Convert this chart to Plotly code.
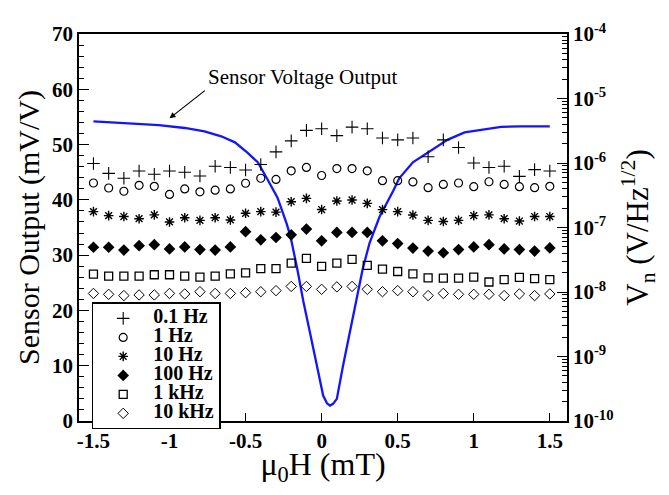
import plotly.graph_objects as go

# ---------------- data ----------------
field_pts = [-1.5, -1.4, -1.3, -1.2, -1.1, -1.0, -0.9, -0.8, -0.7, -0.6, -0.5, -0.4, -0.3, -0.2, -0.1,
             0.0, 0.1, 0.2, 0.3, 0.4, 0.5, 0.6, 0.7, 0.8, 0.9, 1.0, 1.1, 1.2, 1.3, 1.4, 1.5]

noise_01Hz = [9.8e-7, 6.9e-7, 5.8e-7, 7.5e-7, 6.7e-7, 7.5e-7, 7.2e-7, 6.3e-7, 8.9e-7, 8.5e-7, 7.8e-7, 9.5e-7,
              1.49e-6, 2.2e-6, 3.2e-6, 3.4e-6, 2.66e-6, 3.6e-6, 3.4e-6, 2.44e-6, 2.28e-6, 2.44e-6, 1.25e-6,
              2.28e-6, 1.74e-6, 1.0e-6, 8.5e-7, 8.9e-7, 6.2e-7, 7.9e-7, 7.5e-7]
noise_1Hz = [4.9e-7, 4.1e-7, 3.65e-7, 4.5e-7, 4.35e-7, 3.26e-7, 3.97e-7, 3.57e-7, 3.79e-7, 3.97e-7, 4.85e-7,
             5.8e-7, 5.57e-7, 7.55e-7, 8.55e-7, 6.4e-7, 8.2e-7, 8.2e-7, 7.55e-7, 5.33e-7, 5.33e-7, 5.08e-7,
             4.15e-7, 4.66e-7, 4.9e-7, 4.3e-7, 5.12e-7, 4.66e-7, 4.3e-7, 4.15e-7, 4.35e-7]
noise_10Hz = [1.76e-7, 1.53e-7, 1.48e-7, 1.37e-7, 1.57e-7, 1.22e-7, 1.42e-7, 1.29e-7, 1.42e-7, 1.31e-7, 1.66e-7,
              1.76e-7, 1.73e-7, 2.51e-7, 2.83e-7, 1.90e-7, 2.58e-7, 2.67e-7, 2.37e-7, 1.89e-7, 1.76e-7, 1.56e-7,
              1.29e-7, 1.24e-7, 1.29e-7, 1.53e-7, 1.57e-7, 1.37e-7, 1.26e-7, 1.48e-7, 1.48e-7]
noise_100Hz = [4.94e-8, 4.94e-8, 4.46e-8, 5.22e-8, 5.41e-8, 4.66e-8, 5.0e-8, 4.55e-8, 4.46e-8, 5.0e-8, 8.6e-8,
               6.44e-8, 7.0e-8, 7.7e-8, 9.44e-8, 6.22e-8, 8.4e-8, 8.4e-8, 8.4e-8, 6.22e-8, 5.63e-8, 4.8e-8,
               4.31e-8, 4.06e-8, 4.55e-8, 5.0e-8, 5.41e-8, 4.66e-8, 4.55e-8, 4.31e-8, 4.83e-8]
noise_1kHz = [1.89e-8, 1.76e-8, 1.76e-8, 1.76e-8, 1.85e-8, 1.85e-8, 1.76e-8, 1.70e-8, 1.76e-8, 1.91e-8, 1.98e-8,
              2.30e-8, 2.30e-8, 2.80e-8, 3.32e-8, 2.49e-8, 2.80e-8, 3.21e-8, 2.58e-8, 2.27e-8, 2.08e-8, 1.91e-8,
              1.66e-8, 1.64e-8, 1.64e-8, 1.70e-8, 1.43e-8, 1.55e-8, 1.69e-8, 1.61e-8, 1.55e-8]
noise_10kHz = [9.5e-9, 9.2e-9, 8.8e-9, 9.0e-9, 9.0e-9, 9.5e-9, 9.33e-9, 1.01e-8, 9.5e-9, 9.5e-9, 9.77e-9,
               1.01e-8, 1.05e-8, 1.22e-8, 1.22e-8, 1.10e-8, 1.20e-8, 1.22e-8, 1.10e-8, 1.01e-8, 1.05e-8, 1.01e-8,
               8.8e-9, 9.5e-9, 9.2e-9, 9.2e-9, 9.2e-9, 8.8e-9, 9.33e-9, 8.8e-9, 9.33e-9]

field_line = [-1.50, -1.27, -1.07, -0.90, -0.77, -0.66, -0.57, -0.49, -0.42, -0.36, -0.29, -0.23, -0.205,
              -0.16, -0.12, -0.075, -0.03, 0.01, 0.035, 0.055, 0.075, 0.10, 0.14, 0.185, 0.23, 0.27, 0.315,
              0.38, 0.47, 0.51, 0.60, 0.73, 0.83, 0.94, 1.05, 1.18, 1.31, 1.50]
output_line = [54.2, 53.8, 53.5, 53.0, 52.4, 51.5, 50.4, 48.6, 46.8, 43.9, 40.4, 35.7, 33.4,
               27.5, 21.6, 15.8, 9.9, 4.6, 3.2, 2.8, 3.1, 4.0, 9.9, 15.8, 21.6, 27.5, 32.2,
               36.9, 41.6, 43.9, 46.8, 49.2, 50.9, 52.2, 52.7, 53.2, 53.3, 53.3]

series_names = ["0.1 Hz", "1 Hz", "10 Hz", "100 Hz", "1 kHz", "10 kHz"]
series_values = [noise_01Hz, noise_1Hz, noise_10Hz, noise_100Hz, noise_1kHz, noise_10kHz]

x_ticks = [-1.5, -1.0, -0.5, 0.0, 0.5, 1.0, 1.5]
x_ticklabels = ["-1.5", "-1", "-0.5", "0", "0.5", "1", "1.5"]
y_ticks = [0, 10, 20, 30, 40, 50, 60, 70]
y2_ticks = [1e-10, 1e-9, 1e-8, 1e-7, 1e-6, 1e-5, 1e-4]
y2_ticklabels = ["10<sup>-10</sup>", "10<sup>-9</sup>", "10<sup>-8</sup>", "10<sup>-7</sup>",
                 "10<sup>-6</sup>", "10<sup>-5</sup>", "10<sup>-4</sup>"]

# ---------------- styles ----------------
SERIF = "Liberation Serif"
styles = [
    dict(symbol="cross-thin-open", size=9, line=dict(color="black", width=1.1)),
    dict(symbol="circle-open", size=8, line=dict(color="black", width=1.2)),
    dict(symbol="asterisk-open", size=8, line=dict(color="black", width=1.4)),
    dict(symbol="diamond", size=9, color="black", line=dict(color="black", width=0)),
    dict(symbol="square-open", size=8, line=dict(color="black", width=1.3)),
    dict(symbol="diamond-open", size=8, line=dict(color="black", width=1.0)),
]

fig = go.Figure()

fig.add_trace(go.Scatter(x=field_line, y=output_line, mode="lines",
                         line=dict(color="#1414ff", width=2.3), showlegend=False,
                         xaxis="x", yaxis="y"))

for name, vals, st in zip(series_names, series_values, styles):
    mk = dict(st)
    mk.setdefault("color", "black")
    fig.add_trace(go.Scatter(x=field_pts, y=vals, mode="markers", marker=mk,
                             name='<span style="font-size:20px">' + name + '</span>',
                             xaxis="x", yaxis="y2"))

tickfont = dict(family=SERIF, size=21, color="black", weight="bold")

fig.update_layout(
    width=653, height=479,
    margin=dict(l=71, r=88, t=17, b=64),
    plot_bgcolor="white", paper_bgcolor="white",
    font=dict(family=SERIF, color="black"),
    xaxis=dict(range=[-1.595, 1.613], tickvals=x_ticks, ticktext=x_ticklabels,
               ticks="inside", ticklen=8, tickwidth=1, tickcolor="black",
               showline=True, linecolor="black", linewidth=1.5, mirror=True,
               showgrid=False, zeroline=False, tickfont=tickfont,
               title=dict(text="μ<sub>0</sub>H (mT)", font=dict(family=SERIF, size=32), standoff=0)),
    yaxis=dict(range=[0, 70], tickvals=y_ticks, ticks="inside", ticklen=10, tickwidth=1,
               tickcolor="black", showline=True, linecolor="black", linewidth=1.5,
               showgrid=False, zeroline=False, tickfont=tickfont,
               minor=dict(dtick=2, ticks="inside", ticklen=5, tickcolor="black", showgrid=False),
               title=dict(text="Sensor Output (mV/V)", font=dict(family=SERIF, size=30), standoff=4)),
    yaxis2=dict(overlaying="y", side="right", type="log", range=[-10, -4],
                tickvals=y2_ticks, ticktext=y2_ticklabels, ticks="inside", ticklen=10, tickwidth=1,
                tickcolor="black", showline=True, linecolor="black", linewidth=1.5,
                showgrid=False, zeroline=False, tickfont=tickfont,
                minor=dict(dtick="D1", ticks="inside", ticklen=5, tickcolor="black", showgrid=False),
                title=dict(text="V<sub>n</sub> (V/Hz<sup>1/2</sup>)", font=dict(family=SERIF, size=31), standoff=14)),
    legend=dict(x=0.026, y=0.3065, xanchor="left", yanchor="top",
                bgcolor="white", bordercolor="black", borderwidth=1.5,
                font=dict(family=SERIF, size=12, color="black", weight="bold"),
                itemwidth=50, tracegroupgap=0),
    annotations=[
        dict(x=-0.758, y=62.2, xref="x", yref="y", text="Sensor Voltage Output",
             showarrow=False, xanchor="left", yanchor="middle",
             font=dict(family=SERIF, size=21, color="black")),
        dict(x=-1.0, y=54.75, xref="x", yref="y", ax=-0.758, ay=59.97, axref="x", ayref="y",
             text="", showarrow=True, arrowhead=2, arrowsize=1, arrowwidth=1.2, arrowcolor="black"),
    ],
)

fig.write_html("out.html")
